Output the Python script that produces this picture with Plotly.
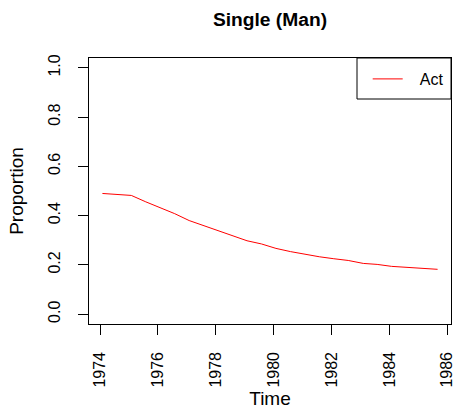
import plotly.graph_objects as go

# Data
time = [1974.08, 1975.08, 1975.58, 1976.08, 1976.58, 1977.08, 1977.58, 1978.08,
        1978.58, 1979.08, 1979.58, 1980.08, 1980.58, 1981.12, 1981.58, 1982.08,
        1982.58, 1983.1, 1983.58, 1984.08, 1984.58, 1985.08, 1985.67]
act = [0.490, 0.482, 0.456, 0.432, 0.408, 0.380, 0.360, 0.340,
       0.319, 0.298, 0.285, 0.267, 0.254, 0.241, 0.233, 0.225,
       0.218, 0.206, 0.202, 0.194, 0.190, 0.186, 0.182]
x_ticks = [1974, 1976, 1978, 1980, 1982, 1984, 1986]
y_ticks = [0.0, 0.2, 0.4, 0.6, 0.8, 1.0]

FONT = "Liberation Sans, Arial, Helvetica, sans-serif"
W, H = 455, 411
ML, MR, MT, MB = 89, 4, 58, 87
PW, PH = W - ML - MR, H - MT - MB

fig = go.Figure()
fig.add_trace(go.Scatter(x=time, y=act, mode="lines", name="\u00a0\u00a0\u2009Act",
                         line=dict(color="#FF0000", width=1)))

span = time[-1] - time[0]

# legend frame (R-style box anchored to the top-right corner of the plot)
fig.add_shape(type="rect", xref="paper", yref="paper",
              x0=1 - 94 / PW, x1=1, y0=1 - 41 / PH, y1=1,
              line=dict(color="black", width=1), fillcolor="rgba(0,0,0,0)",
              layer="above")

fig.update_layout(
    width=W, height=H,
    margin=dict(l=ML, r=MR, t=MT, b=MB, pad=0, autoexpand=False),
    paper_bgcolor="white", plot_bgcolor="white",
    font=dict(family=FONT, size=16, color="black"),
    title=dict(text="<b>Single (Man)</b>", x=0.5, xref="paper", xanchor="center",
               y=1 - 19 / H, yref="container", yanchor="middle",
               font=dict(size=19.2, family=FONT)),
    showlegend=True,
    legend=dict(x=(372.7 - 5 - ML) / PW, y=(MT + PH - 79) / PH,
                xanchor="left", yanchor="middle",
                bgcolor="rgba(0,0,0,0)", borderwidth=0,
                font=dict(size=16)),
    xaxis=dict(range=[time[0] - 0.04 * span, time[-1] + 0.04 * span],
               tickvals=x_ticks, ticktext=[str(v) for v in x_ticks],
               tickangle=-90, ticks="outside", ticklen=9.6, tickcolor="black",
               ticklabelstandoff=11, ticklabeloverflow="allow",
               showline=True, linecolor="black", linewidth=1, mirror=True,
               showgrid=False, zeroline=False, automargin="height",
               title=dict(text="Time", standoff=1)),
    yaxis=dict(range=[-0.04, 1.04],
               tickvals=y_ticks, ticktext=[f"{v:.1f}" for v in y_ticks],
               tickangle=-90, ticks="outside", ticklen=9.6, tickcolor="black",
               ticklabelstandoff=12, ticklabeloverflow="allow",
               showline=True, linecolor="black", linewidth=1, mirror=True,
               showgrid=False, zeroline=False, automargin="width",
               title=dict(text="Proportion", standoff=17)),
)

fig.write_html("out.html", config={"displayModeBar": False},
               post_script="document.body.style.margin='0';")
